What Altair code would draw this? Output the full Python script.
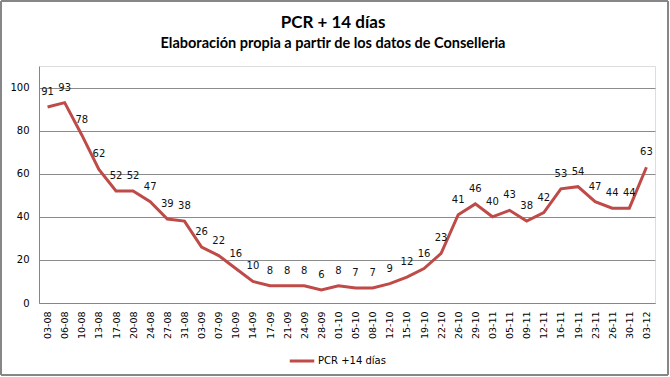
import altair as alt
import pandas as pd

dates = ["03-08", "06-08", "10-08", "13-08", "17-08", "20-08", "24-08", "27-08", "31-08",
         "03-09", "07-09", "10-09", "14-09", "17-09", "21-09", "24-09", "28-09",
         "01-10", "05-10", "08-10", "12-10", "15-10", "19-10", "22-10", "26-10", "29-10",
         "03-11", "05-11", "09-11", "12-11", "16-11", "19-11", "23-11", "26-11", "30-11",
         "03-12"]
values = [91, 93, 78, 62, 52, 52, 47, 39, 38,
          26, 22, 16, 10, 8, 8, 8, 6,
          8, 7, 7, 9, 12, 16, 23, 41, 46,
          40, 43, 38, 42, 53, 54, 47, 44, 44,
          63]
series_name = "PCR +14 días"
title_text = "PCR + 14 días"
subtitle_text = "Elaboración propia a partir de los datos de Conselleria"
y_ticks = [0, 20, 40, 60, 80, 100]

df = pd.DataFrame({"fecha": dates, "valor": values, "serie": [series_name] * len(dates)})

W, H = 616, 237
FONT = "DejaVu Sans"

x_enc = alt.X("fecha:N", sort=dates, title=None,
              scale=alt.Scale(type="point", padding=0.5),
              axis=alt.Axis(labelAngle=-90, labelFontSize=9.5, labelFont=FONT,
                            labelColor="#000", domainColor="#868686", ticks=False,
                            labelPadding=8, grid=False, labelBaseline="middle"))
y_enc = alt.Y("valor:Q", title=None,
              scale=alt.Scale(domain=[0, 110], nice=False),
              axis=alt.Axis(values=y_ticks, labelFontSize=10, labelFont=FONT,
                            labelColor="#000", domainColor="#868686", ticks=False,
                            labelPadding=10, grid=True, gridColor="#8c8c8c"))

base = alt.Chart(df)

line = base.mark_line(strokeWidth=3).encode(
    x=x_enc, y=y_enc,
    color=alt.Color("serie:N", title=None,
                    scale=alt.Scale(domain=[series_name], range=["#BE4B48"]),
                    legend=alt.Legend(orient="none", legendX=249, legendY=281,
                                      symbolType="stroke", symbolStrokeWidth=3,
                                      symbolSize=600, labelFont=FONT, labelFontSize=10,
                                      labelColor="#000", labelOffset=2))
)

labels = base.mark_text(dy=-15, fontSize=10, font=FONT, color="#111", baseline="middle").encode(
    x=alt.X("fecha:N", sort=dates), y="valor:Q", text="valor:Q"
)

border = base.mark_rect(fillOpacity=0, stroke="#868686", strokeWidth=1).encode(
    x=alt.value(-38), x2=alt.value(629), y=alt.value(-65), y2=alt.value(309)
)

title_mark = alt.Chart(pd.DataFrame({"t": [title_text]})).mark_text(
    font="Lato", fontSize=17, fontWeight="bold", color="#000", baseline="middle", align="center"
).encode(x=alt.value(294), y=alt.value(-43), text="t:N")

subtitle_mark = alt.Chart(pd.DataFrame({"t": [subtitle_text]})).mark_text(
    font="Lato", fontSize=14.5, fontWeight="bold", color="#000", baseline="middle", align="center"
).encode(x=alt.value(294), y=alt.value(-22), text="t:N")

chart = alt.layer(border, line, labels, title_mark, subtitle_mark).properties(
    width=W, height=H,
    autosize=alt.AutoSizeParams(type="none"),
    padding={"left": 39, "top": 66, "right": 15, "bottom": 74},
).configure_view(stroke=None).configure(background="white")

chart.save("out.html", embed_options={"renderer": "svg", "actions": False})
